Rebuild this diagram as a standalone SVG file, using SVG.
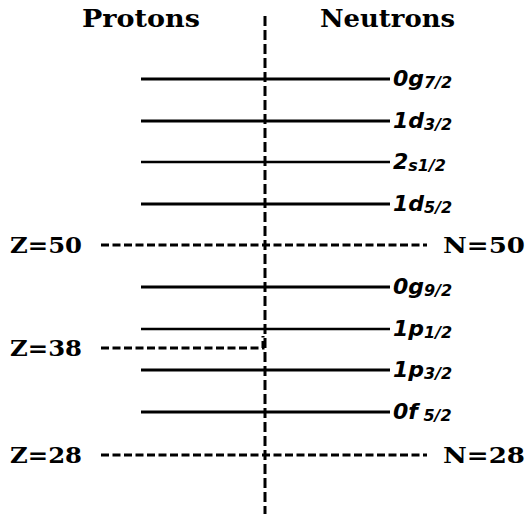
<svg xmlns="http://www.w3.org/2000/svg" width="528" height="514" viewBox="0 0 528 514">
<style>
.hdr{font-family:"DejaVu Serif","Liberation Serif",serif;font-weight:bold;font-size:24px;fill:#000}
.mag{font-family:"DejaVu Serif","Liberation Serif",serif;font-weight:bold;font-size:23px;fill:#000}
.lvl{stroke:#000;stroke-width:3;fill:none}
.thin{stroke-width:2.5}
.dash{stroke:#000;stroke-width:3;fill:none;stroke-dasharray:8 3.5}
.vdash{stroke:#000;stroke-width:3;fill:none;stroke-dasharray:10 4}
.lab{font-family:"DejaVu Sans","Liberation Sans",sans-serif;font-weight:bold;font-style:italic;font-size:22px;fill:#000}
.sub{font-size:16px}
</style>
<rect width="528" height="514" fill="#fff"/>
<g id="headers">
<text class="hdr" x="82" y="27" textLength="118" lengthAdjust="spacingAndGlyphs">Protons</text>
<text class="hdr" x="320" y="27" textLength="135" lengthAdjust="spacingAndGlyphs">Neutrons</text>
</g>
<g id="connectors">
<line class="vdash" x1="265" y1="16" x2="265" y2="514"/>
<line class="dash" x1="101" y1="245" x2="427" y2="245"/>
<polyline class="dash" points="101,348 263,348 263,336"/>
<line class="dash" x1="101" y1="455" x2="427" y2="455"/>
</g>
<g id="magic">
<text class="mag" x="10" y="253" textLength="72" lengthAdjust="spacingAndGlyphs">Z=50</text>
<text class="mag" x="443" y="253" textLength="82" lengthAdjust="spacingAndGlyphs">N=50</text>
<text class="mag" x="10" y="356" textLength="72" lengthAdjust="spacingAndGlyphs">Z=38</text>
<text class="mag" x="10" y="463" textLength="72" lengthAdjust="spacingAndGlyphs">Z=28</text>
<text class="mag" x="443" y="463" textLength="82" lengthAdjust="spacingAndGlyphs">N=28</text>
</g>
<g id="lvl-0g72"><line class="lvl" x1="141" y1="79" x2="390" y2="79"/><text class="lab" x="393" y="86">0g<tspan class="sub" dy="2">7/2</tspan></text></g>
<g id="lvl-1d32"><line class="lvl" x1="141" y1="121" x2="390" y2="121"/><text class="lab" x="393" y="128">1d<tspan class="sub" dy="2">3/2</tspan></text></g>
<g id="lvl-2s12"><line class="lvl thin" x1="141" y1="162" x2="390" y2="162"/><text class="lab" x="393" y="169">2<tspan class="sub" dy="2">s1/2</tspan></text></g>
<g id="lvl-1d52"><line class="lvl" x1="141" y1="204" x2="390" y2="204"/><text class="lab" x="393" y="211">1d<tspan class="sub" dy="2">5/2</tspan></text></g>
<g id="lvl-0g92"><line class="lvl" x1="141" y1="287" x2="390" y2="287"/><text class="lab" x="393" y="294">0g<tspan class="sub" dy="2">9/2</tspan></text></g>
<g id="lvl-1p12"><line class="lvl thin" x1="141" y1="329" x2="390" y2="329"/><text class="lab" x="393" y="336">1p<tspan class="sub" dy="2">1/2</tspan></text></g>
<g id="lvl-1p32"><line class="lvl" x1="141" y1="370" x2="390" y2="370"/><text class="lab" x="393" y="377">1p<tspan class="sub" dy="2">3/2</tspan></text></g>
<g id="lvl-0f52"><line class="lvl" x1="141" y1="412" x2="390" y2="412"/><text class="lab" x="393" y="419">0f<tspan class="sub" dy="2"> 5/2</tspan></text></g>
</svg>
